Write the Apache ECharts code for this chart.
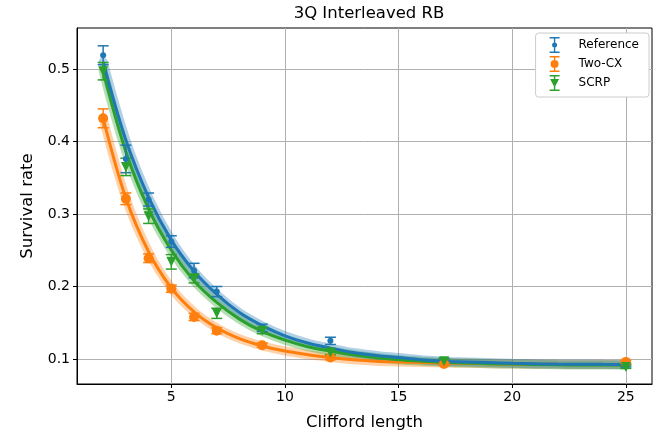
<!DOCTYPE html>
<html><head><meta charset="utf-8">
<script src="https://cdn.jsdelivr.net/npm/echarts@6/dist/echarts.min.js"></script>
<style>html,body{margin:0;padding:0;background:#fff}#c{width:672px;height:438px}</style>
</head><body><div id="c"></div>
<script>
// ---- data ----
const lengths = [2, 3, 4, 5, 6, 7, 9, 12, 17, 25];
const refMean = [0.519, 0.376, 0.320, 0.262, 0.222, 0.193, 0.143, 0.125, 0.098, 0.091];
const refErr  = [0.013, 0.019, 0.009, 0.008, 0.010, 0.007, 0.005, 0.005, 0.003, 0.002];
const twoCxMean = [0.432, 0.321, 0.239, 0.197, 0.158, 0.139, 0.119, 0.102, 0.093, 0.096];
const twoCxErr  = [0.013, 0.008, 0.006, 0.005, 0.005, 0.004, 0.003, 0.003, 0.002, 0.002];
const scrpMean = [0.497, 0.365, 0.297, 0.234, 0.211, 0.163, 0.139, 0.109, 0.097, 0.089];
const scrpErr  = [0.012, 0.012, 0.010, 0.010, 0.006, 0.007, 0.004, 0.003, 0.003, 0.002];

// fitted curves
const fitX = [2,3,4,5,6,7,8,9,10,11,12,13,14,15,16,17,18,19,20,21,22,23,24,25];
const refFit = [0.510,0.402,0.323,0.264,0.221,0.189,0.164,0.146,0.132,0.122,0.115,0.109,0.105,0.102,0.099,0.097,0.096,0.095,0.094,0.0935,0.093,0.0928,0.0926,0.0925];
const twoCxFit = [0.432,0.322,0.248,0.198,0.165,0.143,0.128,0.118,0.111,0.106,0.102,0.099,0.097,0.096,0.095,0.0945,0.094,0.0935,0.093,0.0928,0.0926,0.0925,0.0924,0.0923];
const scrpFit = [0.497,0.386,0.307,0.250,0.208,0.178,0.155,0.138,0.126,0.117,0.111,0.106,0.102,0.099,0.097,0.0955,0.0945,0.0935,0.093,0.0925,0.092,0.0918,0.0916,0.0915];

const xTicks = [5, 10, 15, 20, 25];
const yTicks = [0.1, 0.2, 0.3, 0.4, 0.5];
const seriesNames = ['Reference', 'Two-CX', 'SCRP'];
// ---------------------------------------------

const FONT = 'DejaVu Sans';
const C = {Reference:'#1f77b4', 'Two-CX':'#ff7f0e', SCRP:'#2ca02c'};
const zip = (a,b) => a.map((v,i)=>[v,b[i]]);

function bandSeries(name, ys){
  return {type:'line', name:name+' band', data: zip(fitX, ys), smooth:0.35, symbol:'none', z:1,
    lineStyle:{color:C[name], width:9, opacity:0.35, cap:'round'}, silent:true};
}
function lineSeries(name, ys){
  return {type:'line', name:name+' fit', data: zip(fitX, ys), smooth:0.35, symbol:'none', z:2,
    lineStyle:{color:C[name], width:3}, silent:true};
}
function errSeries(name, m, e){
  const col = C[name];
  return {type:'custom', name:name+' err', z:3, silent:true,
    data: lengths.map((x,i)=>[x, m[i]-e[i], m[i]+e[i]]),
    renderItem(params, api){
      const x = api.value(0);
      const lo = api.coord([x, api.value(1)]);
      const hi = api.coord([x, api.value(2)]);
      const hw = 5.5;
      const st = {stroke:col, lineWidth:1.5};
      return {type:'group', children:[
        {type:'line', shape:{x1:lo[0], y1:lo[1], x2:hi[0], y2:hi[1]}, style:st},
        {type:'line', shape:{x1:hi[0]-hw, y1:hi[1], x2:hi[0]+hw, y2:hi[1]}, style:st},
        {type:'line', shape:{x1:lo[0]-hw, y1:lo[1], x2:lo[0]+hw, y2:lo[1]}, style:st}
      ]};
    }};
}
function markSeries(name, m, symbol, size){
  return {type:'scatter', name:name, data: zip(lengths, m), symbol:symbol, symbolSize:size, z:4,
    itemStyle:{color:C[name], opacity:1}};
}

const triDown = 'path://M0,0H10L5,10Z';
const capPath = 'M0,0H10V1.5H0Z M4.3,0H5.7V16H4.3Z M0,14.5H10V16H0Z ';
const icons = {
  Reference: 'path://' + capPath + 'M5,5.5A2.5,2.5 0 1 1 5,10.5A2.5,2.5 0 1 1 5,5.5Z',
  'Two-CX': 'path://' + capPath + 'M5,4A4,4 0 1 1 5,12A4,4 0 1 1 5,4Z',
  SCRP: 'path://' + capPath + 'M0.5,4H9.5L5,12.5Z'
};

const option = {
  animation:false,
  backgroundColor:'#fff',
  textStyle:{fontFamily:FONT},
  title:{text:'3Q Interleaved RB', left:364, top:0, textAlign:'center',
    textStyle:{fontFamily:FONT, fontSize:16.5, fontWeight:'normal', color:'#000'}},
  grid:{left:77, right:20, top:28, bottom:54, show:true, borderColor:'#000', borderWidth:1, backgroundColor:'transparent'},
  legend:{orient:'vertical', right:23, top:33, padding:[4,10,6,14], itemGap:3,
    itemWidth:10, itemHeight:16, backgroundColor:'#fff', borderColor:'#cccccc', borderWidth:1, borderRadius:3,
    textStyle:{fontFamily:FONT, fontSize:12, color:'#000', padding:[0,0,0,14]},
    data: seriesNames.map(n=>({name:n, icon:icons[n], itemStyle:{color:C[n]}}))},
  xAxis:{type:'value', min:0.85, max:26.15,
    name:'Clifford length', nameLocation:'middle', nameGap:30,
    nameTextStyle:{fontFamily:FONT, fontSize:16.5, color:'#000'},
    axisLine:{show:true, lineStyle:{color:'#000', width:1}},
    axisTick:{show:true, length:4, lineStyle:{color:'#000'}, customValues:xTicks},
    axisLabel:{fontFamily:FONT, fontSize:14, color:'#000', margin:6, customValues:xTicks},
    splitLine:{show:true, lineStyle:{color:'#b0b0b0', width:1}}},
  yAxis:{type:'value', min:0.0655, max:0.5566,
    name:'Survival rate', nameLocation:'middle', nameGap:41, nameRotate:90,
    nameTextStyle:{fontFamily:FONT, fontSize:16.5, color:'#000'},
    axisLine:{show:true, lineStyle:{color:'#000', width:1}},
    axisTick:{show:true, length:4, lineStyle:{color:'#000'}, customValues:yTicks},
    axisLabel:{fontFamily:FONT, fontSize:14, color:'#000', margin:7, customValues:yTicks,
      formatter:v=>v.toFixed(1)},
    splitLine:{show:true, lineStyle:{color:'#b0b0b0', width:1}}},
  series:[
    bandSeries('Two-CX', twoCxFit), bandSeries('SCRP', scrpFit), bandSeries('Reference', refFit),
    lineSeries('Two-CX', twoCxFit), lineSeries('SCRP', scrpFit), lineSeries('Reference', refFit),
    errSeries('Reference', refMean, refErr), errSeries('Two-CX', twoCxMean, twoCxErr), errSeries('SCRP', scrpMean, scrpErr),
    markSeries('Reference', refMean, 'circle', 6),
    markSeries('Two-CX', twoCxMean, 'circle', 10),
    markSeries('SCRP', scrpMean, triDown, 10)
  ]
};
const chart = echarts.init(document.getElementById('c'), null, {renderer:'canvas'});
chart.setOption(option);
</script></body></html>
